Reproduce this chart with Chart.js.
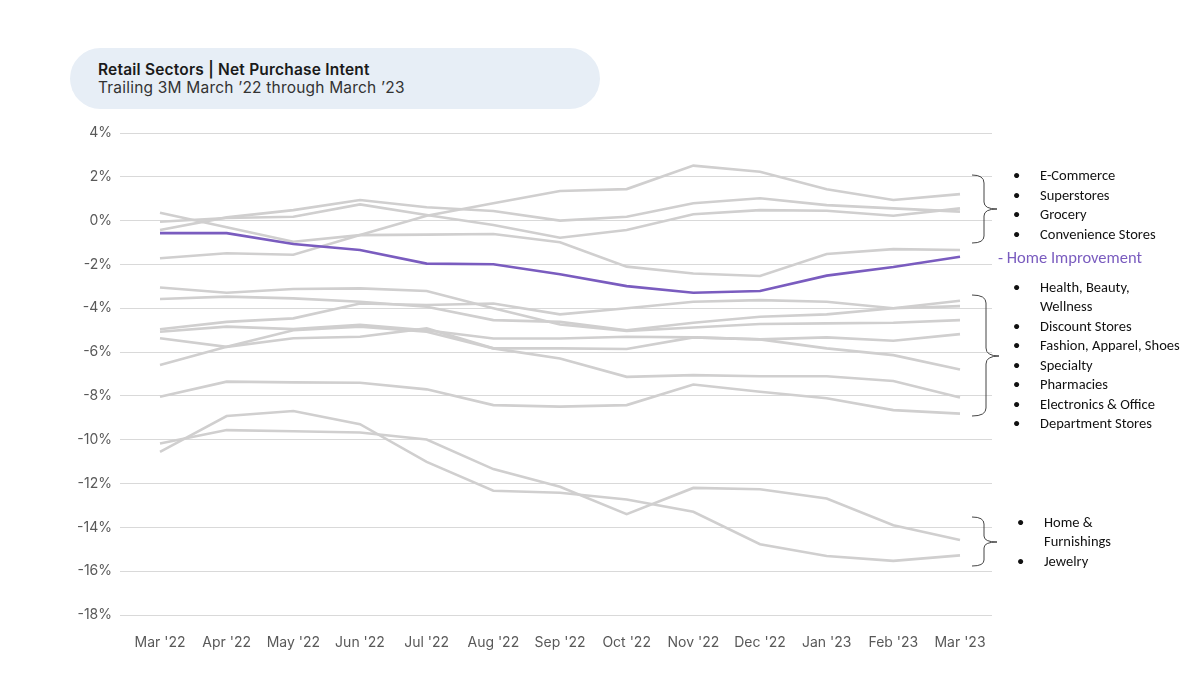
<!DOCTYPE html>
<html>
<head>
<meta charset="utf-8">
<script src="https://cdn.jsdelivr.net/npm/chart.js@4.4.0/dist/chart.umd.min.js"></script>
<style>
  body { margin: 0; background: #fff; }
  #wrap { position: relative; width: 1200px; height: 675px; overflow: hidden; }
  #chart { position: absolute; left: 0; top: 0; }
  .pill { position: absolute; left: 70px; top: 48px; width: 530px; height: 61px; border-radius: 31px; background: #e7eef6; }
  .pill .t1 { position: absolute; left: 28px; top: 12px; font: 600 15.5px Inter, sans-serif; letter-spacing: 0.2px; color: #1a1a1a; }
  .pill .t2 { position: absolute; left: 28px; top: 30px; font: 400 15.5px Inter, sans-serif; letter-spacing: 0.2px; color: #333; }
  .note { position: absolute; font: 14.5px Carlito, "Liberation Sans Narrow", Lato, sans-serif; color: #111; white-space: nowrap; line-height: 1; }
  .hi { position: absolute; left: 998px; top: 247px; font: 16.5px Carlito, "Liberation Sans Narrow", Lato, sans-serif; color: #7a5cbf; white-space: nowrap; }
  svg { position: absolute; left: 0; top: 0; }
</style>
</head>
<body>
<div id="wrap">
  <canvas id="chart" width="1200" height="675"></canvas>
  <div class="pill">
    <div class="t1">Retail Sectors | Net Purchase Intent</div>
    <div class="t2">Trailing 3M March ’22 through March ’23</div>
  </div>
  <svg width="1200" height="675">
    <path d="M972 175 Q984 175 984 183 L984 202 Q984 209 997 209 Q984 209 984 216 L984 236 Q984 243 972 243" fill="none" stroke="#444" stroke-width="1"/>
    <path d="M972 295 Q986 295 986 303 L986 348 Q986 356 999 356 Q986 356 986 364 L986 408 Q986 416 972 416" fill="none" stroke="#444" stroke-width="1"/>
    <path d="M972 517 Q984 517 984 524 L984 536 Q984 542 997 542 Q984 542 984 548 L984 560 Q984 566 972 566" fill="none" stroke="#444" stroke-width="1"/>
  </svg>
  <div id="notes"></div>
  <div class="hi">- Home Improvement</div>
</div>
<script>
const months = ["Mar '22", "Apr '22", "May '22", "Jun '22", "Jul '22", "Aug '22", "Sep '22", "Oct '22", "Nov '22", "Dec '22", "Jan '23", "Feb '23", "Mar '23"];
const yTicks = [4, 2, 0, -2, -4, -6, -8, -10, -12, -14, -16, -18];

// highlighted sector
const homeImprovement = [-0.57, -0.57, -1.07, -1.34, -1.96, -1.99, -2.45, -2.99, -3.29, -3.21, -2.51, -2.12, -1.65];

// top group
const topA = [-1.72, -1.49, -1.56, -0.66, 0.22, 0.79, 1.35, 1.44, 2.51, 2.23, 1.43, 0.94, 1.21];
const topB = [-0.43, 0.15, 0.48, 0.94, 0.61, 0.44, 0.0, 0.18, 0.79, 1.02, 0.71, 0.56, 0.41];
const topC = [-0.05, 0.12, 0.18, 0.74, 0.26, -0.2, -0.78, -0.43, 0.29, 0.48, 0.45, 0.22, 0.56];
const topD = [0.36, -0.3, -0.96, -0.66, -0.64, -0.61, -0.99, -2.1, -2.41, -2.53, -1.52, -1.3, -1.34];

// middle group
const midA = [-3.05, -3.29, -3.12, -3.09, -3.21, -4.0, -4.74, -5.03, -4.88, -4.72, -4.69, -4.66, -4.54];
const midB = [-3.58, -3.47, -3.55, -3.7, -3.93, -4.54, -4.62, -5.0, -4.66, -4.39, -4.28, -4.0, -3.66];
const midC = [-4.96, -4.62, -4.46, -3.78, -3.85, -3.78, -4.28, -4.0, -3.7, -3.63, -3.7, -4.0, -3.9];
const midD = [-5.07, -4.84, -4.95, -4.75, -5.0, -5.38, -5.38, -5.3, -5.33, -5.42, -5.33, -5.48, -5.18];
const midE = [-5.37, -5.76, -5.37, -5.3, -4.92, -5.83, -5.83, -5.86, -5.33, -5.42, -5.83, -6.14, -6.79];
const midF = [-6.59, -5.76, -5.0, -4.84, -5.07, -5.83, -6.29, -7.13, -7.05, -7.1, -7.1, -7.32, -8.07];
const midG = [-8.04, -7.35, -7.38, -7.4, -7.7, -8.42, -8.49, -8.42, -7.48, -7.81, -8.11, -8.65, -8.81];

// bottom group
const lowA = [-10.17, -9.56, -9.61, -9.67, -9.99, -11.34, -12.15, -13.4, -12.2, -12.26, -12.68, -13.9, -14.58];
const lowB = [-10.55, -8.92, -8.69, -9.29, -11.01, -12.33, -12.42, -12.73, -13.29, -14.77, -15.31, -15.53, -15.28];

const grayLines = [topA, topB, topC, topD, midA, midB, midC, midD, midE, midF, midG, lowA, lowB];

const noteRows = [
  { y: 175, x: 1040, text: "E-Commerce", bullet: true },
  { y: 195, x: 1040, text: "Superstores", bullet: true },
  { y: 214, x: 1040, text: "Grocery", bullet: true },
  { y: 234, x: 1040, text: "Convenience Stores", bullet: true },
  { y: 287, x: 1040, text: "Health, Beauty,", bullet: true },
  { y: 306, x: 1040, text: "Wellness", bullet: false },
  { y: 326, x: 1040, text: "Discount Stores", bullet: true },
  { y: 345, x: 1040, text: "Fashion, Apparel, Shoes", bullet: true },
  { y: 365, x: 1040, text: "Specialty", bullet: true },
  { y: 384, x: 1040, text: "Pharmacies", bullet: true },
  { y: 404, x: 1040, text: "Electronics & Office", bullet: true },
  { y: 423, x: 1040, text: "Department Stores", bullet: true },
  { y: 522, x: 1044, text: "Home &", bullet: true },
  { y: 541, x: 1044, text: "Furnishings", bullet: false },
  { y: 561, x: 1044, text: "Jewelry", bullet: true }
];

const notes = document.getElementById('notes');
noteRows.forEach(r => {
  if (r.bullet) {
    const b = document.createElement('div');
    b.className = 'note';
    b.style.left = (r.x - 27) + 'px';
    b.style.top = (r.y - 7) + 'px';
    b.textContent = '•';
    notes.appendChild(b);
  }
  const d = document.createElement('div');
  d.className = 'note';
  d.style.left = r.x + 'px';
  d.style.top = (r.y - 7) + 'px';
  d.textContent = r.text;
  notes.appendChild(d);
});

const toPts = arr => arr.map((v, i) => ({ x: i, y: v }));

const datasets = [{
  data: toPts(homeImprovement),
  borderColor: '#7a5cbf',
  borderWidth: 2.6
}].concat(grayLines.map(arr => ({
  data: toPts(arr),
  borderColor: '#d0cfcf',
  borderWidth: 2.6
})));

const tickFont = { family: 'Inter, sans-serif', size: 14 };

new Chart(document.getElementById('chart'), {
  type: 'line',
  data: { datasets: datasets },
  options: {
    responsive: false,
    animation: false,
    elements: { point: { radius: 0 }, line: { tension: 0 } },
    layout: { padding: { top: 133, right: 208, bottom: 20, left: 0 } },
    plugins: { legend: { display: false }, tooltip: { enabled: false } },
    scales: {
      x: {
        type: 'linear',
        min: -0.6,
        max: 12.48,
        afterBuildTicks: s => { s.ticks = months.map((m, i) => ({ value: i })); },
        afterFit: s => { s.height = 40; },
        grid: { display: false },
        border: { display: false },
        ticks: {
          autoSkip: false,
          maxRotation: 0,
          padding: 11,
          color: '#595959',
          font: tickFont,
          callback: v => months[v]
        }
      },
      y: {
        min: -18,
        max: 4,
        afterBuildTicks: s => { s.ticks = yTicks.map(v => ({ value: v })); },
        afterFit: s => { s.width = 120; },
        grid: { color: '#d9d9d9', lineWidth: 1, drawTicks: false },
        border: { display: false },
        ticks: {
          padding: 8,
          color: '#595959',
          font: tickFont,
          callback: v => v + '%'
        }
      }
    }
  }
});
</script>
</body>
</html>
